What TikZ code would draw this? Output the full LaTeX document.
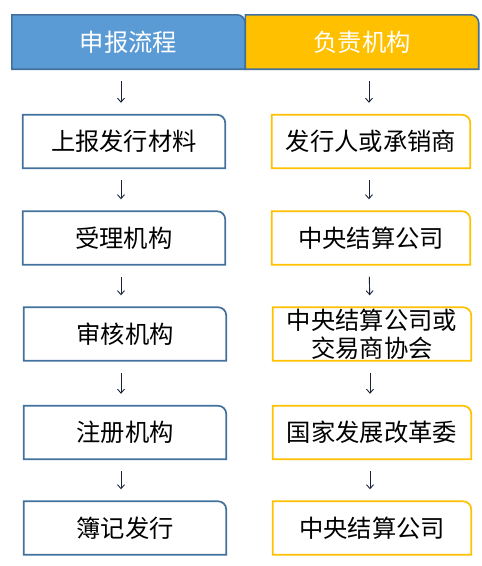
\documentclass[tikz,border=0pt]{standalone}
\usepackage{fontspec}
\newfontfamily\cjk{Noto Sans CJK SC}
\usetikzlibrary{arrows.meta}
\definecolor{hdrblue}{HTML}{5B9BD5}
\definecolor{edgeblue}{HTML}{41719C}
\definecolor{gold}{HTML}{FFC000}
\definecolor{arrowc}{HTML}{1A2238}
\tikzset{
  x=1pt,y=-1pt,
  txt/.style={inner sep=0pt,font=\cjk\fontsize{24.3}{28}\selectfont,align=center},
  hdr/.style={txt,text=white,minimum width=233pt,minimum height=54pt},
  lbox/.style={txt,minimum width=202pt,minimum height=53pt},
  rbox/.style={txt,minimum width=198pt,minimum height=53pt},
  arr/.style={draw=arrowc,line width=0.9pt,-{Straight Barb[length=4pt,width=7pt]},shorten <=12pt,shorten >=12pt},
}
\newcommand{\tabshape}[3]{%
  \draw[#1] (#2.south west) -- (#2.north west) -- ([xshift=-#3]#2.north east)
    arc[start angle=90,end angle=0,radius=#3] -- (#2.south east) -- cycle;}
\begin{document}
\begin{tikzpicture}
\useasboundingbox (0,0) rectangle (482,566);
% headers
\node[hdr] (h1) at (128.5,42) {};
\node[hdr] (h2) at (362,42) {};
\tabshape{fill=hdrblue,draw=edgeblue,line width=1.6pt}{h1}{8pt}
\tabshape{fill=gold,draw=edgeblue,line width=1.6pt}{h2}{8pt}
\node[hdr] at (h1) {申报流程};
\node[hdr] at (h2) {负责机构};
% left boxes
\node[lbox] (l1) at (124,141.5) {上报发行材料};
\node[lbox] (l2) at (124,238) {受理机构};
\node[lbox] (l3) at (125,334) {审核机构};
\node[lbox] (l4) at (125,432.5) {注册机构};
\node[lbox] (l5) at (125,528) {簿记发行};
% right boxes
\node[rbox] (r1) at (371,141.5) {发行人或承销商};
\node[rbox] (r2) at (371,238) {中央结算公司};
\node[rbox] (r3) at (372,334) {中央结算公司或\\交易商协会};
\node[rbox] (r4) at (372,432.5) {国家发展改革委};
\node[rbox] (r5) at (372,528) {中央结算公司};
\foreach \n in {l1,l2,l3,l4,l5}{\tabshape{draw=edgeblue,line width=1.7pt}{\n}{8pt}}
\foreach \n in {r1,r2,r3,r4,r5}{\tabshape{draw=gold,line width=1.7pt}{\n}{8pt}}
% arrows
\draw[arr] ([xshift=-7.5pt]h1.south) -- ([xshift=-3pt]l1.north);
\draw[arr] ([xshift=-3pt]l1.south) -- ([xshift=-3pt]l2.north);
\draw[arr] ([xshift=-3pt]l2.south) -- ([xshift=-4pt]l3.north);
\draw[arr] ([xshift=-4pt]l3.south) -- ([xshift=-4pt]l4.north);
\draw[arr] ([xshift=-4pt]l4.south) -- ([xshift=-4pt]l5.north);
\draw[arr] ([xshift=7pt]h2.south) -- ([xshift=-2pt]r1.north);
\draw[arr] ([xshift=-2pt]r1.south) -- ([xshift=-2pt]r2.north);
\draw[arr] ([xshift=-2pt]r2.south) -- ([xshift=-2pt]r3.north);
\draw[arr] ([xshift=-2pt]r3.south) -- ([xshift=-2pt]r4.north);
\draw[arr] ([xshift=-2pt]r4.south) -- ([xshift=-2pt]r5.north);
\end{tikzpicture}
\end{document}
